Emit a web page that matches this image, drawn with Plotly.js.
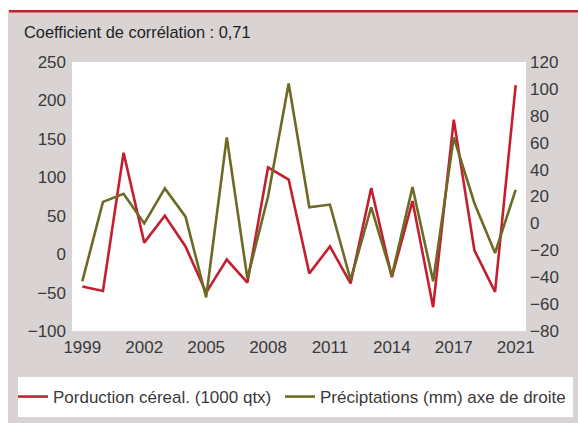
<!DOCTYPE html>
<html>
<head>
<meta charset="utf-8">
<script src="https://cdn.plot.ly/plotly-3.0.1.min.js"></script>
<style>
  html, body { margin: 0; padding: 0; background: #ffffff; }
  #chart { width: 578px; height: 423px; }
</style>
</head>
<body>
<div id="chart"></div>
<script>
// ---- Data ----
const years = ['1999','2000','2001','2002','2003','2004','2005','2006','2007','2008','2009',
               '2010','2011','2012','2013','2014','2015','2016','2017','2018','2019','2021'];
const tickYears = ['1999','2002','2005','2008','2011','2014','2017','2021'];
const production = [-42, -48, 132, 15, 50, 10, -50, -7, -37, 113, 97,
                    -25, 10, -38, 86, -30, 69, -69, 175, 5, -49, 220];
const precipitation = [-43, 16, 22, 0, 26, 5, -55, 64, -41, 20, 104,
                       12, 14, -42, 12, -39, 27, -43, 64, 15, -22, 25];
const seriesNames = ['Porduction céreal. (1000 qtx)', 'Préciptations (mm) axe de droite'];
const titleText = 'Coefficient de corrélation : 0,71';

// ---- Layout constants ----
const W = 578, H = 423;
const M = {l: 72, r: 52, t: 62, b: 92, autoexpand: false};
const PW = W - M.l - M.r, PH = H - M.t - M.b;
const px2x = p => (p - M.l) / PW;
const px2y = p => (H - M.b - p) / PH;
const FONT = 'Liberation Sans, Arial, sans-serif';
const GRAY = '#d9d3d4';
const RED = '#c41f30';
const OLIVE = '#6c6a24';

const traces = [
  {x: years, y: production, name: seriesNames[0], type: 'scatter', mode: 'lines',
   line: {color: RED, width: 2.6}, yaxis: 'y', legend: 'legend'},
  {x: years, y: precipitation, name: seriesNames[1], type: 'scatter', mode: 'lines',
   line: {color: OLIVE, width: 2.6}, yaxis: 'y2', legend: 'legend2'}
];

const legendBase = {orientation: 'h', xref: 'paper', yref: 'paper', xanchor: 'left',
                    y: px2y(397), yanchor: 'middle', bgcolor: 'rgba(0,0,0,0)',
                    font: {family: FONT, size: 17, color: '#3a3a3a'}};

const layout = {
  width: W, height: H,
  margin: M,
  paper_bgcolor: GRAY,
  plot_bgcolor: '#ffffff',
  font: {family: FONT, size: 17, color: '#3a3a3a'},
  title: {text: titleText, xref: 'container', yref: 'container',
          x: 24 / W, xanchor: 'left', y: 1 - 32 / H, yanchor: 'middle',
          font: {family: FONT, size: 16.4, color: '#222222'}},
  xaxis: {type: 'category', range: [-0.5, years.length - 0.5], tickmode: 'array',
          tickvals: tickYears, ticktext: tickYears,
          showgrid: false, zeroline: false, showline: false, ticks: '',
          ticklabelstandoff: 4, tickfont: {size: 17, color: '#3a3a3a'}},
  yaxis: {range: [-100, 250], dtick: 50, showgrid: false, zeroline: false, showline: false,
          ticks: '', ticklabelstandoff: 5, tickfont: {size: 17, color: '#3a3a3a'}},
  yaxis2: {range: [-80, 120], dtick: 20, overlaying: 'y', side: 'right', showgrid: false,
           zeroline: false, showline: false, ticks: '', ticklabelstandoff: 3,
           tickfont: {size: 17, color: '#3a3a3a'}},
  showlegend: true,
  legend: Object.assign({}, legendBase, {x: px2x(13)}),
  legend2: Object.assign({}, legendBase, {x: px2x(280)}),
  shapes: [
    {type: 'rect', xref: 'paper', yref: 'paper', x0: px2x(0), x1: px2x(W), y0: px2y(10), y1: px2y(0),
     fillcolor: '#ffffff', line: {width: 0}, layer: 'above'},
    {type: 'rect', xref: 'paper', yref: 'paper', x0: px2x(0), x1: px2x(8), y0: px2y(H), y1: px2y(0),
     fillcolor: '#ffffff', line: {width: 0}, layer: 'above'},
    {type: 'rect', xref: 'paper', yref: 'paper', x0: px2x(9), x1: px2x(W), y0: px2y(12.5), y1: px2y(10),
     fillcolor: '#c8202c', line: {width: 0}, layer: 'above'},
    {type: 'rect', xref: 'paper', yref: 'paper', x0: px2x(18), x1: px2x(573), y0: px2y(417), y1: px2y(377),
     fillcolor: '#ffffff', line: {width: 0}, layer: 'above'}
  ]
};

Plotly.newPlot('chart', traces, layout, {displayModeBar: false, staticPlot: true});
</script>
</body>
</html>
